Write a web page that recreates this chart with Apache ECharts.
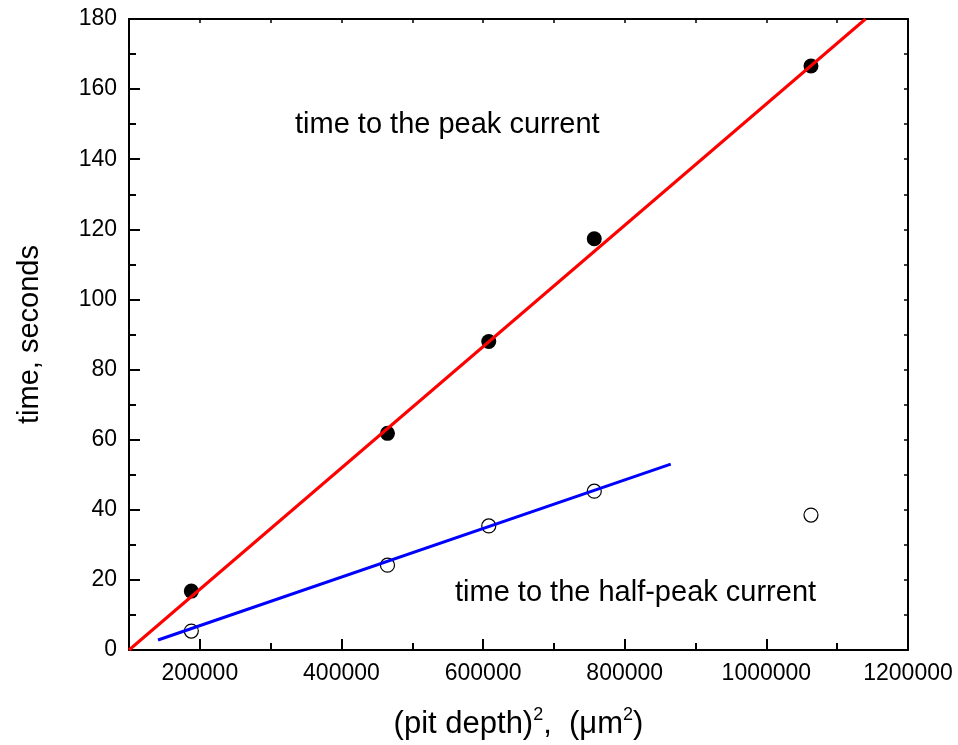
<!DOCTYPE html>
<html>
<head>
<meta charset="utf-8">
<script src="https://cdn.jsdelivr.net/npm/echarts@6/dist/echarts.min.js"></script>
<style>
  html, body { margin: 0; padding: 0; background: #fff; }
  #chart { width: 958px; height: 745px; }
</style>
</head>
<body>
<div id="chart"></div>
<script>
// Pit depth squared (µm²) for each measured pit
const pitDepthSq = [188000, 465000, 608000, 757000, 1063000];
// Time to reach the peak current (s)
const timeToPeak = [16.8, 61.8, 88.0, 117.3, 166.6];
// Time to reach half of the peak current (s)
const timeToHalfPeak = [5.4, 24.2, 35.4, 45.3, 38.5];

// Linear fits drawn as straight segments (x, y end points)
const peakFitX = [100000, 1140000];
const peakFitY = [0, 180];
const halfFitX = [141000, 865000];
const halfFitY = [2.85, 53.0];

// Axis ticks
const xMajorTicks = [200000, 400000, 600000, 800000, 1000000, 1200000];

const FONT = 'Liberation Sans, Arial, sans-serif';

const pairs = (xs, ys) => xs.map((x, i) => [x, ys[i]]);

const chart = echarts.init(document.getElementById('chart'), null, { renderer: 'canvas' });

const axisLineStyle = { color: '#000', width: 2 };

chart.setOption({
  backgroundColor: '#fff',
  animation: false,
  grid: { left: 129, right: 50, top: 19, bottom: 94, containLabel: false },
  xAxis: [
    {
      type: 'value', min: 100000, max: 1200000, interval: 100000,
      position: 'bottom',
      axisLine: { show: true, lineStyle: axisLineStyle },
      axisTick: { show: true, inside: true, length: 7, lineStyle: { color: '#000', width: 2 } },
      axisLabel: {
        show: true, margin: 12, color: '#000', fontFamily: FONT, fontSize: 23,
        customValues: xMajorTicks,
        formatter: v => String(v)
      },
      splitLine: { show: false },
      name: '{n|(pit depth)}{s|2}{n|,  (\u03bcm}{s|2}{n|)}',
      nameLocation: 'middle',
      nameGap: 56,
      nameTextStyle: {
        rich: {
          n: { fontFamily: FONT, fontSize: 31, color: '#000', verticalAlign: 'bottom', lineHeight: 34 },
          s: { fontFamily: FONT, fontSize: 18, color: '#000', verticalAlign: 'top', lineHeight: 34, padding: [0, 0, 16, 0] }
        }
      }
    },
    {
      type: 'value', min: 100000, max: 1200000, interval: 100000,
      position: 'bottom',
      axisLine: { show: false },
      axisTick: { show: true, inside: true, length: 11, customValues: xMajorTicks, lineStyle: { color: '#000', width: 2 } },
      axisLabel: { show: false },
      splitLine: { show: false }
    },
    {
      type: 'value', min: 100000, max: 1200000, interval: 100000,
      position: 'top',
      axisLine: { show: true, onZero: false, lineStyle: axisLineStyle },
      axisTick: { show: true, inside: true, length: 4, lineStyle: { color: '#000', width: 1.5 } },
      axisLabel: { show: false },
      splitLine: { show: false }
    }
  ],
  yAxis: [
    {
      type: 'value', min: 0, max: 180, interval: 20,
      position: 'left',
      axisLine: { show: true, onZero: false, lineStyle: axisLineStyle },
      axisTick: { show: true, inside: true, length: 11, lineStyle: { color: '#000', width: 2 } },
      minorTick: { show: true, splitNumber: 2, length: 7, lineStyle: { color: '#000', width: 2 } },
      axisLabel: { show: true, margin: 12, color: '#000', fontFamily: FONT, fontSize: 23 },
      splitLine: { show: false },
      minorSplitLine: { show: false },
      name: 'time, seconds',
      nameLocation: 'middle',
      nameGap: 85,
      nameTextStyle: { fontFamily: FONT, fontSize: 29, color: '#000' }
    },
    {
      type: 'value', min: 0, max: 180, interval: 10,
      position: 'right',
      axisLine: { show: true, onZero: false, lineStyle: axisLineStyle },
      axisTick: { show: true, inside: true, length: 4, lineStyle: { color: '#000', width: 1.5 } },
      axisLabel: { show: false },
      splitLine: { show: false }
    }
  ],
  title: [
    {
      text: 'time to the peak current', left: 290, top: 105,
      textStyle: { fontFamily: FONT, fontSize: 29, fontWeight: 'normal', color: '#000' }
    },
    {
      text: 'time to the half-peak current', left: 450, top: 573,
      textStyle: { fontFamily: FONT, fontSize: 29, fontWeight: 'normal', color: '#000' }
    }
  ],
  series: [
    {
      name: 'peak', type: 'scatter', xAxisIndex: 0, yAxisIndex: 0,
      data: pairs(pitDepthSq, timeToPeak),
      symbol: 'circle', symbolSize: 15,
      itemStyle: { color: '#000', opacity: 1 }, z: 2
    },
    {
      name: 'half-peak', type: 'scatter', xAxisIndex: 0, yAxisIndex: 0,
      data: pairs(pitDepthSq, timeToHalfPeak),
      symbol: 'circle', symbolSize: 14,
      itemStyle: { color: 'rgba(0,0,0,0)', borderColor: '#000', borderWidth: 1.2, opacity: 1 }, z: 2
    },
    {
      name: 'peak fit', type: 'line', xAxisIndex: 0, yAxisIndex: 0,
      data: pairs(peakFitX, peakFitY),
      showSymbol: false, symbol: 'none', clip: true,
      lineStyle: { color: '#ff0000', width: 3 }, z: 3
    },
    {
      name: 'half-peak fit', type: 'line', xAxisIndex: 0, yAxisIndex: 0,
      data: pairs(halfFitX, halfFitY),
      showSymbol: false, symbol: 'none',
      lineStyle: { color: '#0000ff', width: 3 }, z: 3
    }
  ]
});
</script>
</body>
</html>
